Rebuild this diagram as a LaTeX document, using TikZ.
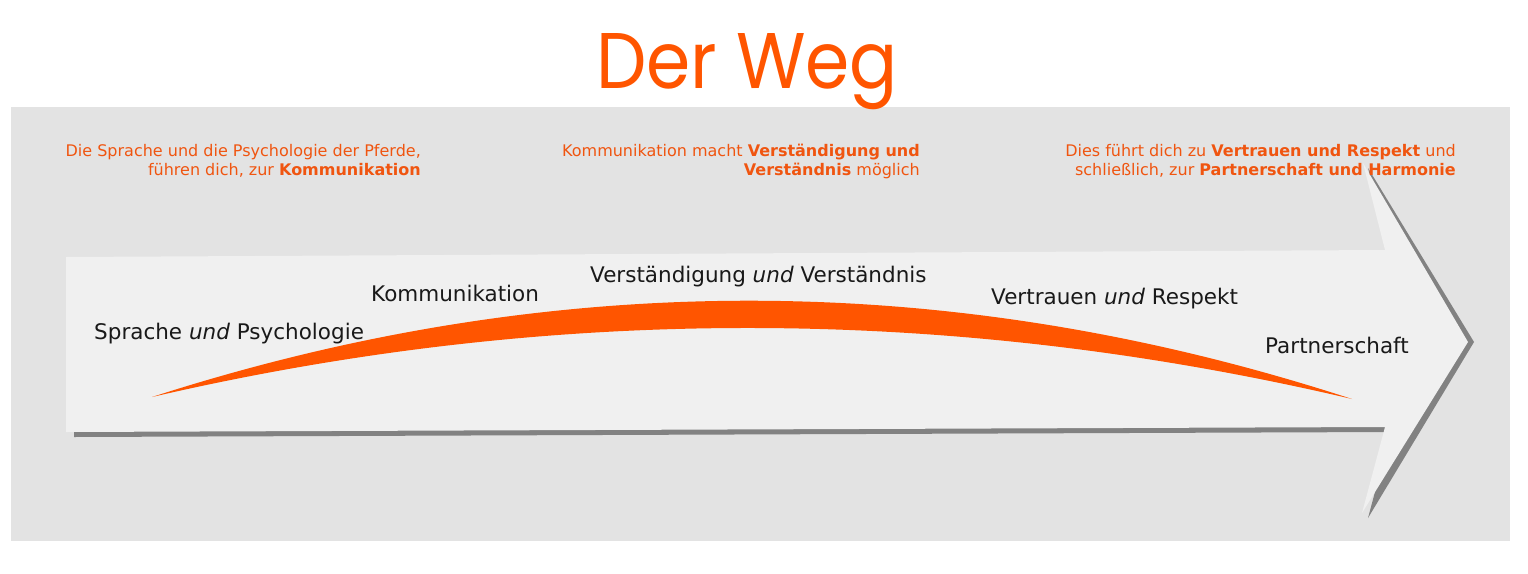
\documentclass[tikz,border=0pt]{standalone}
\usepackage{fontspec}
\setmainfont{DejaVu Sans}
\newfontfamily\titlefont{Poppins}
\definecolor{bggray}{HTML}{E3E3E3}
\definecolor{arrowlight}{HTML}{F0F0F0}
\definecolor{shadowgray}{HTML}{828282}
\definecolor{wegorange}{HTML}{FF5500}
\definecolor{textorange}{HTML}{F05510}
\tikzset{
  desc/.style={anchor=base east, inner sep=0pt, align=right, text=textorange,
    font=\fontsize{16}{19}\selectfont},
  label/.style={anchor=base west, inner sep=0pt, text=black!90,
    font=\fontsize{21.5}{24}\selectfont},
}
\begin{document}
\begin{tikzpicture}[x=1pt,y=-1pt]
\useasboundingbox (0,0) rectangle (1528,573);
\fill[white] (0,0) rectangle (1528,573);
\fill[bggray] (11,107) rectangle (1510,541);
% shadow of arrow
\fill[shadowgray] (74,262) -- (1390,255) -- (1368,168) -- (1474,342) -- (1368,518) -- (1391,432) -- (74,437) -- cycle;
% arrow
\fill[arrowlight] (66,257) -- (1385,250) -- (1363,163) -- (1468,342) -- (1362,513) -- (1385,427) -- (66,432) -- cycle;
% crescent
\fill[wegorange] (152,397) .. controls (552,268) and (952,268.6) .. (1352,399)
  .. controls (952,305) and (552,304.3) .. (152,397) -- cycle;
% title
\node[anchor=base, inner sep=0pt, text=wegorange] (title) at (747,88) {\resizebox{302pt}{55pt}{\titlefont\fontsize{79}{90}\selectfont Der Weg}};
% descriptions
\node[desc] (d1) at (421,175) {Die Sprache und die Psychologie der Pferde,\\ führen dich, zur \textbf{Kommunikation}};
\node[desc] (d2) at (920,175) {Kommunikation macht \textbf{Verständigung und}\\ \textbf{Verständnis} möglich};
\node[desc] (d3) at (1456,175) {Dies führt dich zu \textbf{Vertrauen und Respekt} und\\ schließlich, zur \textbf{Partnerschaft und Harmonie}};
% labels
\node[label] (l1) at (94,339) {Sprache \textit{und} Psychologie};
\node[label] (l2) at (371,301) {Kommunikation};
\node[label] (l3) at (590,282) {Verständigung \textit{und} Verständnis};
\node[label] (l4) at (991,304) {Vertrauen \textit{und} Respekt};
\node[label] (l5) at (1265,353) {Partnerschaft};
\end{tikzpicture}
\end{document}
